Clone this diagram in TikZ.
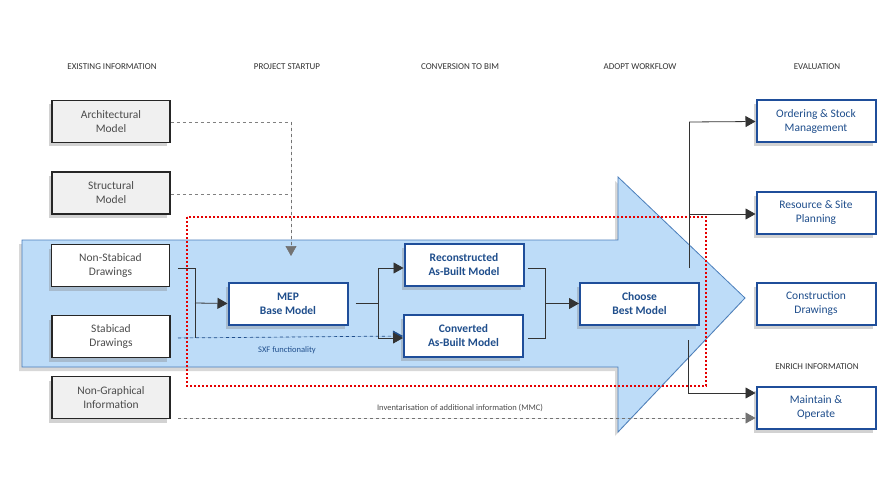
\documentclass[tikz,border=0pt]{standalone}
\usepackage{fontspec}
\setmainfont{Carlito}
\usetikzlibrary{shadows,arrows.meta}
\definecolor{bluetxt}{HTML}{1F4E8C}
\definecolor{boxblue}{HTML}{1F4E9A}
\definecolor{arrowfill}{HTML}{BDDCF8}
\definecolor{arrowline}{HTML}{4A7EBB}
\begin{document}
\begin{tikzpicture}[x=1pt,y=-1pt,
  gbox/.style={draw=black!85,line width=1.6pt,fill=black!6,minimum width=118pt,minimum height=42pt,align=center,font=\fontsize{11.5}{14}\selectfont,text=black!70,drop shadow={shadow xshift=-3pt,shadow yshift=-4pt,opacity=0.35}},
  wbox/.style={gbox,fill=white},
  bbox/.style={draw=boxblue,line width=2pt,fill=white,minimum width=119pt,minimum height=42pt,align=center,font=\fontsize{11.5}{14}\selectfont\bfseries,text=bluetxt,drop shadow={shadow xshift=-3pt,shadow yshift=-4pt,opacity=0.35}},
  rbox/.style={bbox,font=\fontsize{11.5}{14}\selectfont},
  hdr/.style={font=\fontsize{9}{10}\selectfont,text=black!80},
  tip/.style={-{Triangle[length=10pt,width=11pt]}},
  con/.style={draw=black!80,line width=0.8pt},
  arr/.style={con,tip},
  dsh/.style={draw=black!50,dashed,line width=0.7pt}]
\useasboundingbox (0,0) rectangle (889,500);
\fill[white] (0,0) rectangle (889,500);
% big arrow
\draw[fill=arrowfill,draw=arrowline,line width=0.8pt,drop shadow={shadow xshift=-3pt,shadow yshift=-4pt,opacity=0.3}]
 (22,240) -- (618,240) -- (618,177) -- (745,298) -- (618,432) -- (618,367) -- (22,367) -- cycle;
% headers
\node[hdr] (h1) at (112,67) {EXISTING INFORMATION};
\node[hdr] (h2) at (287,67) {PROJECT STARTUP};
\node[hdr] (h3) at (460,67) {CONVERSION TO BIM};
\node[hdr] (h4) at (640,67) {ADOPT WORKFLOW};
\node[hdr] (h5) at (817,67) {EVALUATION};
\node[hdr] (h6) at (817,367) {ENRICH INFORMATION};
% left boxes
\node[gbox] (arch) at (111,121.5) {Architectural\\Model};
\node[gbox] (str) at (111,193) {Structural\\Model};
\node[wbox] (nsd) at (110.5,265.5) {Non-Stabicad\\Drawings};
\node[wbox] (sd) at (111,336.5) {Stabicad\\Drawings};
\node[gbox] (ng) at (111,397.5) {Non-Graphical\\Information};
% middle
\node[bbox] (mep) at (288,303.5) {MEP\\Base Model};
\node[bbox] (rec) at (464,265) {Reconstructed\\As-Built Model};
\node[bbox] (conv) at (463.5,336) {Converted\\As-Built Model};
\node[bbox] (best) at (639.5,303.5) {Choose\\Best Model};
% right
\node[rbox] (ord) at (816,121.5) {Ordering \& Stock\\Management};
\node[rbox] (res) at (816,212.5) {Resource \& Site\\Planning};
\node[rbox] (cd) at (816,303.5) {Construction\\Drawings};
\node[rbox] (mo) at (816,407.5) {Maintain \&\\Operate};
% red dotted
\draw[red!90!black,line width=2pt,dotted] (187,217) rectangle (706,386);
% dashed inputs
\coordinate (c1) at (291,122);
\draw[dsh] (arch.east |- 0,122) -- (c1);
\draw[dsh] (str.east |- 0,194) -- (291,194);
\draw[dsh,tip,draw=black!55,fill=black!55] (c1) -- (291,256);
% drawings to MEP
\coordinate (j1) at (195,303);
\draw[con] (178,268) -- (195,268) -- (195,338);
\draw[arr] (j1) -- (mep.west);
\draw[dsh,draw=bluetxt,tip,fill=bluetxt] (178,338) -- (conv.west);
\node[font=\fontsize{8.5}{10}\selectfont,text=bluetxt] (sxf) at (287,350) {SXF functionality};
% MEP to rec/conv
\draw[con] (mep.east) ++(7,0) -- (378,303.5);
\draw[arr] (378,268) -- (rec.west |- 0,268);
\draw[arr] (378,338) -- (conv.west |- 0,338);
\draw[con] (378,268) -- (378,338);
% to best
\draw[con] (528,268) -- (545,268) -- (545,338) -- (528,338);
\draw[arr] (545,303.5) -- (best.west);
% evaluation
\draw[con] (689,268) -- (689,122);
\draw[arr] (689,122) -- (ord.west);
\draw[arr] (689,214) -- (res.west |- 0,214);
\draw[con] (688,340) -- (688,393);
\draw[arr] (688,393) -- (mo.west |- 0,393);
\draw[dsh,tip,draw=black!55,fill=black!55] (178,418) -- (mo.west |- 0,418);
\node[font=\fontsize{8.5}{10}\selectfont,text=black!70] (inv) at (460,408) {Inventarisation of additional information (MMC)};
\end{tikzpicture}
\end{document}
